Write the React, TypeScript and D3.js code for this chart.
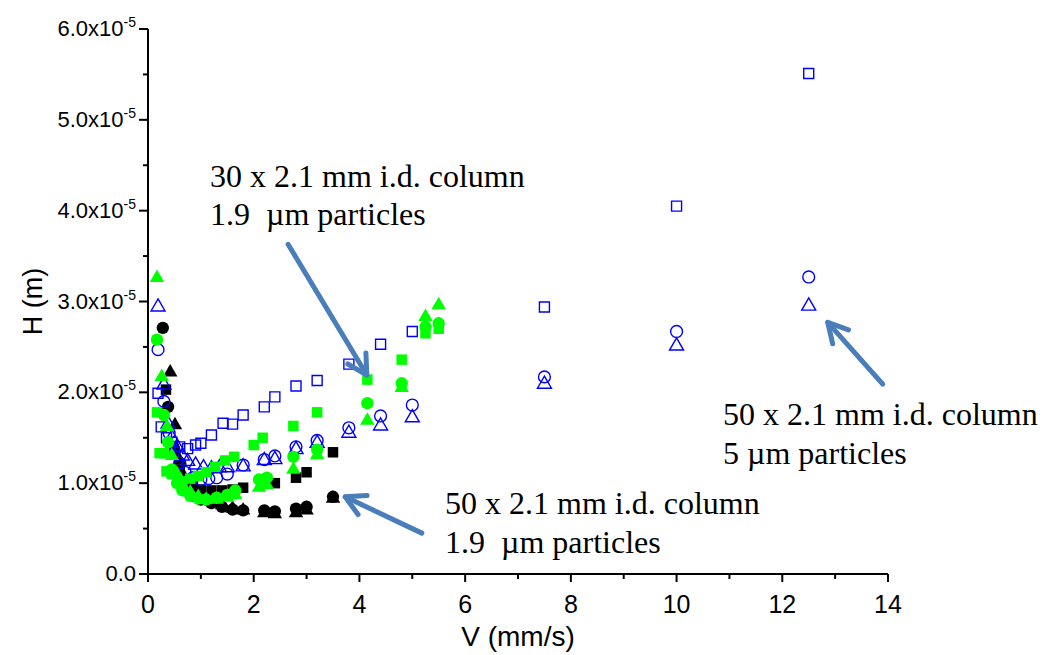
import React from "react";
import * as d3 from "d3";

// values of H in units of 1e-5 m, V in mm/s
const blueSquares: [number, number][] = [
  [0.19, 1.99], [0.25, 1.62], [0.35, 1.5], [0.45, 1.45], [0.6, 1.4], [0.75, 1.38], [0.9, 1.42], [1.0, 1.44],
  [1.2, 1.53], [1.42, 1.66], [1.6, 1.65], [1.8, 1.75], [2.2, 1.84], [2.4, 1.95], [2.8, 2.07], [3.2, 2.13],
  [3.8, 2.31], [4.4, 2.53], [5.0, 2.67], [7.5, 2.94], [10, 4.05], [12.5, 5.51],
];
const blueCircles: [number, number][] = [
  [0.19, 2.47], [0.3, 1.9], [0.4, 1.55], [0.5, 1.35], [0.6, 1.22], [0.7, 1.12], [0.85, 1.06], [1.0, 1.04],
  [1.15, 1.05], [1.3, 1.06], [1.5, 1.1], [1.8, 1.2], [2.2, 1.26], [2.4, 1.3], [2.8, 1.4], [3.2, 1.47],
  [3.8, 1.61], [4.4, 1.74], [5.0, 1.86], [7.5, 2.17], [10, 2.67], [12.5, 3.27],
];
const blueTriangles: [number, number][] = [
  [0.19, 2.94], [0.3, 2.08], [0.38, 1.65], [0.45, 1.5], [0.55, 1.4], [0.65, 1.3], [0.75, 1.24], [0.9, 1.2],
  [1.05, 1.17], [1.2, 1.16], [1.35, 1.17], [1.5, 1.17], [1.8, 1.18], [2.2, 1.25], [2.4, 1.26], [2.8, 1.37],
  [3.2, 1.44], [3.8, 1.55], [4.4, 1.63], [5.0, 1.72], [7.5, 2.09], [10, 2.51], [12.5, 2.95],
];
const greenSquares: [number, number][] = [
  [0.17, 1.78], [0.22, 1.33], [0.3, 1.33], [0.35, 1.13], [0.45, 1.1], [0.55, 1.05], [0.65, 1.02], [0.8, 1.05],
  [0.95, 1.08], [1.1, 1.12], [1.27, 1.18], [1.46, 1.25], [1.63, 1.29], [2.0, 1.42], [2.17, 1.5], [2.75, 1.63],
  [3.2, 1.78], [4.15, 2.14], [4.8, 2.36], [5.25, 2.65], [5.5, 2.7],
];
const greenCircles: [number, number][] = [
  [0.17, 2.58], [0.3, 1.75], [0.38, 1.45], [0.45, 1.15], [0.55, 1.0], [0.65, 0.92], [0.8, 0.86], [0.95, 0.83],
  [1.1, 0.82], [1.3, 0.84], [1.5, 0.87], [1.65, 0.92], [2.1, 1.04], [2.25, 1.06], [2.75, 1.29], [3.2, 1.37],
  [4.15, 1.88], [4.8, 2.1], [5.25, 2.72], [5.5, 2.76],
];
const greenTriangles: [number, number][] = [
  [0.17, 3.26], [0.26, 2.17], [0.36, 1.62], [0.45, 1.3], [0.55, 1.1], [0.65, 0.98], [0.8, 0.9], [0.95, 0.85],
  [1.1, 0.82], [1.3, 0.82], [1.5, 0.84], [1.65, 0.87], [2.1, 0.95], [2.25, 0.98], [2.75, 1.15], [3.2, 1.31],
  [4.15, 1.69], [4.8, 2.05], [5.25, 2.83], [5.5, 2.96],
];
const blackSquares: [number, number][] = [
  [0.34, 2.03], [0.5, 1.35], [0.6, 1.15], [0.7, 1.02], [0.85, 0.96], [1.0, 0.93], [1.2, 0.92], [1.4, 0.92],
  [1.6, 0.93], [1.8, 0.95], [2.4, 1.0], [2.8, 1.06], [3.0, 1.12], [3.5, 1.34],
];
const blackCircles: [number, number][] = [
  [0.28, 2.71], [0.38, 1.84], [0.48, 1.4], [0.6, 1.1], [0.7, 0.95], [0.85, 0.86], [1.0, 0.82], [1.2, 0.78],
  [1.4, 0.74], [1.6, 0.71], [1.8, 0.7], [2.2, 0.7], [2.4, 0.69], [2.8, 0.72], [3.0, 0.74], [3.5, 0.85],
];
const blackTriangles: [number, number][] = [
  [0.42, 2.22], [0.51, 1.64], [0.6, 1.25], [0.7, 1.05], [0.85, 0.92], [1.0, 0.86], [1.2, 0.8], [1.4, 0.76],
  [1.6, 0.72], [1.8, 0.7], [2.2, 0.67], [2.4, 0.66], [2.8, 0.67], [3.0, 0.7], [3.5, 0.83],
];

const xTicks = [0, 2, 4, 6, 8, 10, 12, 14];
const yTicks = [0, 1, 2, 3, 4, 5, 6];
const yTickLabels = ["0.0", "1.0x10", "2.0x10", "3.0x10", "4.0x10", "5.0x10", "6.0x10"];

const annTop = ["30 x 2.1 mm i.d. column", "1.9  \u00b5m particles"];
const annBottom = ["50 x 2.1 mm i.d. column", "1.9  \u00b5m particles"];
const annRight = ["50 x 2.1 mm i.d. column", "5 \u00b5m particles"];
// arrows: tail -> tip in data coordinates
const arrows: [number, number, number, number][] = [
  [2.65, 3.63, 4.14, 2.19],
  [5.18, 0.45, 3.73, 0.85],
  [13.9, 2.09, 12.86, 2.77],
];

const x = d3.scaleLinear().domain([0, 14]).range([148, 888]);
const y = d3.scaleLinear().domain([0, 6]).range([574, 29]);

type Series = { data: [number, number][]; shape: d3.SymbolType; size: number; fill: string; stroke: string };

const series: Series[] = [
  { data: blackSquares, shape: d3.symbolSquare, size: 110, fill: "#000", stroke: "none" },
  { data: blackCircles, shape: d3.symbolCircle, size: 120, fill: "#000", stroke: "none" },
  { data: blackTriangles, shape: d3.symbolTriangle, size: 90, fill: "#000", stroke: "none" },
  { data: blueSquares, shape: d3.symbolSquare, size: 100, fill: "none", stroke: "#0000FF" },
  { data: blueCircles, shape: d3.symbolCircle, size: 110, fill: "none", stroke: "#0000FF" },
  { data: blueTriangles, shape: d3.symbolTriangle, size: 85, fill: "none", stroke: "#0000FF" },
  { data: greenSquares, shape: d3.symbolSquare, size: 110, fill: "#00FF00", stroke: "none" },
  { data: greenCircles, shape: d3.symbolCircle, size: 120, fill: "#00FF00", stroke: "none" },
  { data: greenTriangles, shape: d3.symbolTriangle, size: 90, fill: "#00FF00", stroke: "none" },
];

const arrowColor = "#4A7EBB";

function Arrow({ a }: { a: [number, number, number, number] }) {
  const x1 = x(a[0]), y1 = y(a[1]), x2 = x(a[2]), y2 = y(a[3]);
  const ang = Math.atan2(y2 - y1, x2 - x1);
  const L = 22, spread = 0.5;
  const b1 = [x2 - L * Math.cos(ang - spread), y2 - L * Math.sin(ang - spread)];
  const b2 = [x2 - L * Math.cos(ang + spread), y2 - L * Math.sin(ang + spread)];
  return (
    <g stroke={arrowColor} strokeWidth={5} fill="none" strokeLinecap="round" strokeLinejoin="round">
      <line x1={x1} y1={y1} x2={x2} y2={y2} />
      <polyline points={`${b1[0]},${b1[1]} ${x2},${y2} ${b2[0]},${b2[1]}`} />
    </g>
  );
}

export default function App() {
  const minorX = d3.range(0, 15, 1).filter((v) => v % 2 !== 0);
  const minorY = d3.range(0.5, 6, 1);
  const serif = "'Liberation Serif', 'Times New Roman', serif";
  const sans = "'Liberation Sans', Arial, sans-serif";
  const narrow = "'Liberation Sans Narrow', 'Arial Narrow', 'Liberation Sans', sans-serif";
  const annFont = 32;
  return (
    <div style={{ position: "absolute", left: 0, top: 0 }}>
      <svg width={1043} height={655} style={{ display: "block", background: "#fff" }}>
        <g stroke="#000" strokeWidth={2}>
          <line x1={x(0)} y1={y(0)} x2={x(14)} y2={y(0)} />
          <line x1={x(0)} y1={y(0)} x2={x(0)} y2={y(6)} />
          {xTicks.map((t) => (
            <line key={"xt" + t} x1={x(t)} x2={x(t)} y1={y(0)} y2={y(0) + 8} />
          ))}
          {minorX.map((t) => (
            <line key={"xm" + t} x1={x(t)} x2={x(t)} y1={y(0)} y2={y(0) + 5} />
          ))}
          {yTicks.map((t) => (
            <line key={"yt" + t} x1={x(0) - 9} x2={x(0)} y1={y(t)} y2={y(t)} />
          ))}
          {minorY.map((t) => (
            <line key={"ym" + t} x1={x(0) - 5} x2={x(0)} y1={y(t)} y2={y(t)} />
          ))}
        </g>
        {xTicks.map((t) => (
          <text key={"xl" + t} x={x(t)} y={y(0) + 39} textAnchor="middle" fontFamily={narrow} fontSize={25} fill="#000">
            {t}
          </text>
        ))}
        {yTicks.map((t, i) => (
          <text key={"yl" + t} x={x(0) - 12} y={y(t) + 7} textAnchor="end" fontFamily={sans} fontSize={22} fill="#000">
            {t === 0 ? (
              yTickLabels[i]
            ) : (
              <>
                {yTickLabels[i]}
                <tspan fontSize={14} dy={-9}>-5</tspan>
              </>
            )}
          </text>
        ))}
        <text x={518} y={646} textAnchor="middle" fontFamily={narrow} fontSize={28} fill="#000">
          V (mm/s)
        </text>
        <text
          transform={`translate(42,${y(3)}) rotate(-90)`}
          textAnchor="middle"
          fontFamily={sans}
          fontSize={27}
          fill="#000"
        >
          H (m)
        </text>
        {series.map((s, si) => {
          const gen = d3.symbol().type(s.shape).size(s.size);
          const path = gen() as string;
          return (
            <g key={"s" + si}>
              {s.data.map((d, i) => (
                <path
                  key={i}
                  d={path}
                  transform={`translate(${x(d[0])},${y(d[1])})`}
                  fill={s.fill}
                  stroke={s.stroke}
                  strokeWidth={s.stroke === "none" ? 0 : 1.4}
                />
              ))}
            </g>
          );
        })}
        <text fontFamily={serif} fontSize={annFont} fill="#000" style={{ whiteSpace: "pre" }}>
          <tspan x={210} y={187}>{annTop[0]}</tspan>
          <tspan x={210} y={225}>{annTop[1]}</tspan>
        </text>
        <text fontFamily={serif} fontSize={annFont} fill="#000" style={{ whiteSpace: "pre" }}>
          <tspan x={445} y={514}>{annBottom[0]}</tspan>
          <tspan x={445} y={553}>{annBottom[1]}</tspan>
        </text>
        <text fontFamily={serif} fontSize={annFont} fill="#000" style={{ whiteSpace: "pre" }}>
          <tspan x={723} y={425}>{annRight[0]}</tspan>
          <tspan x={723} y={464}>{annRight[1]}</tspan>
        </text>
        {arrows.map((a, i) => (
          <Arrow key={"a" + i} a={a} />
        ))}
      </svg>
    </div>
  );
}
